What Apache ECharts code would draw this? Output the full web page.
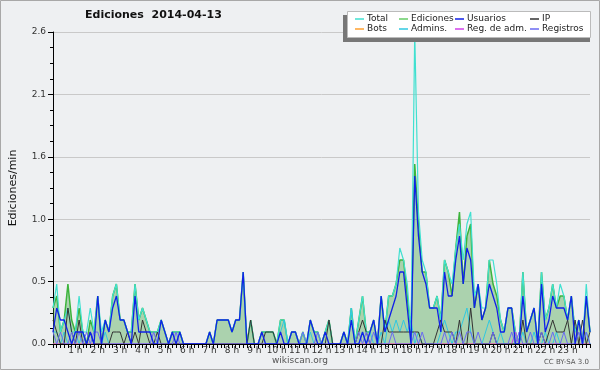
<!DOCTYPE html>
<html>
<head>
<meta charset="utf-8">
<script src="https://cdn.jsdelivr.net/npm/echarts@6/dist/echarts.min.js"></script>
<style>
  html, body { margin: 0; padding: 0; background: #eef0f2; }
  #chart { width: 600px; height: 370px; }
</style>
</head>
<body>
<div id="chart"></div>
<script>
// ediciones por minuto, tramos de 10 min (una fila = una hora, el último valor = 24:00)
const total = [
  0.3,0.5,0.1,0.2,0.3,0.1, 0.1,0.4,0.1,0.1,0.3,0.1, 0.4,0.1,0.2,0.1,0.4,0.5, 0.2,0.2,0.1,0.1,0.5,0.2,
  0.3,0.2,0.1,0.1,0.1,0.2, 0.1,0.0,0.1,0.1,0.1,0.0, 0.0,0.0,0.0,0.0,0.0,0.0, 0.1,0.0,0.2,0.2,0.2,0.2,
  0.1,0.2,0.2,0.6,0.0,0.2, 0.0,0.0,0.1,0.1,0.1,0.1, 0.0,0.2,0.2,0.0,0.1,0.1, 0.0,0.1,0.0,0.2,0.1,0.1,
  0.0,0.1,0.2,0.0,0.0,0.0, 0.1,0.0,0.3,0.0,0.2,0.4, 0.1,0.1,0.2,0.0,0.4,0.1, 0.4,0.4,0.5,0.8,0.7,0.5,
  0.1,2.6,1.1,0.7,0.6,0.3, 0.3,0.4,0.2,0.7,0.6,0.5, 0.8,1.0,0.7,1.0,1.1,0.4, 0.5,0.3,0.3,0.7,0.7,0.5,
  0.2,0.1,0.3,0.3,0.1,0.0, 0.6,0.1,0.2,0.3,0.0,0.6, 0.2,0.3,0.5,0.3,0.5,0.4, 0.2,0.4,0.1,0.2,0.0,0.5,
  0.1
];
const ediciones = [
  0.3,0.4,0.1,0.2,0.5,0.2, 0.1,0.3,0.1,0.0,0.2,0.1, 0.4,0.0,0.2,0.1,0.4,0.5, 0.2,0.2,0.1,0.1,0.5,0.2,
  0.3,0.2,0.1,0.1,0.1,0.2, 0.1,0.0,0.1,0.1,0.1,0.0, 0.0,0.0,0.0,0.0,0.0,0.0, 0.1,0.0,0.2,0.2,0.2,0.2,
  0.1,0.2,0.2,0.6,0.0,0.2, 0.0,0.0,0.1,0.1,0.1,0.1, 0.0,0.2,0.2,0.0,0.1,0.1, 0.0,0.1,0.0,0.2,0.1,0.1,
  0.0,0.1,0.2,0.0,0.0,0.0, 0.1,0.0,0.3,0.0,0.2,0.4, 0.1,0.1,0.2,0.0,0.4,0.1, 0.4,0.4,0.5,0.7,0.7,0.4,
  0.1,1.5,1.0,0.6,0.6,0.3, 0.3,0.4,0.2,0.7,0.6,0.4, 0.8,1.1,0.5,0.9,1.0,0.3, 0.5,0.2,0.3,0.7,0.5,0.4,
  0.2,0.1,0.3,0.3,0.1,0.0, 0.6,0.1,0.2,0.3,0.0,0.6, 0.2,0.3,0.5,0.3,0.4,0.4, 0.2,0.4,0.1,0.2,0.0,0.4,
  0.1
];
const usuarios = [
  0.1,0.3,0.2,0.2,0.1,0.0, 0.1,0.1,0.1,0.0,0.1,0.0, 0.4,0.0,0.2,0.1,0.3,0.4, 0.2,0.2,0.1,0.0,0.4,0.1,
  0.1,0.1,0.1,0.0,0.0,0.2, 0.1,0.0,0.1,0.0,0.1,0.0, 0.0,0.0,0.0,0.0,0.0,0.0, 0.1,0.0,0.2,0.2,0.2,0.2,
  0.1,0.2,0.2,0.6,0.0,0.0, 0.0,0.0,0.1,0.0,0.0,0.0, 0.0,0.1,0.0,0.0,0.1,0.1, 0.0,0.0,0.0,0.2,0.1,0.0,
  0.0,0.1,0.0,0.0,0.0,0.0, 0.1,0.0,0.2,0.0,0.0,0.1, 0.0,0.1,0.2,0.0,0.4,0.1, 0.2,0.3,0.4,0.6,0.6,0.3,
  0.0,1.4,0.9,0.6,0.5,0.3, 0.3,0.3,0.1,0.6,0.4,0.4, 0.7,0.9,0.5,0.8,0.7,0.3, 0.5,0.2,0.3,0.5,0.4,0.3,
  0.1,0.1,0.3,0.3,0.0,0.0, 0.4,0.1,0.2,0.3,0.0,0.5, 0.1,0.2,0.4,0.3,0.3,0.3, 0.2,0.4,0.0,0.2,0.0,0.4,
  0.1
];
const ip = [
  0.2,0.1,0.0,0.0,0.3,0.1, 0.0,0.2,0.0,0.0,0.1,0.0, 0.0,0.0,0.0,0.0,0.1,0.1, 0.1,0.0,0.1,0.0,0.1,0.0,
  0.2,0.1,0.0,0.0,0.1,0.0, 0.0,0.0,0.0,0.0,0.0,0.0, 0.0,0.0,0.0,0.0,0.0,0.0, 0.0,0.0,0.0,0.0,0.0,0.0,
  0.0,0.0,0.0,0.0,0.0,0.2, 0.0,0.0,0.0,0.1,0.1,0.1, 0.0,0.0,0.0,0.0,0.0,0.0, 0.0,0.0,0.0,0.0,0.0,0.0,
  0.0,0.0,0.2,0.0,0.0,0.0, 0.0,0.0,0.0,0.0,0.1,0.2, 0.1,0.0,0.0,0.0,0.0,0.2, 0.1,0.1,0.1,0.1,0.1,0.1,
  0.1,0.1,0.1,0.0,0.0,0.0, 0.0,0.1,0.2,0.1,0.1,0.1, 0.0,0.2,0.0,0.0,0.3,0.0, 0.0,0.0,0.0,0.0,0.1,0.0,
  0.0,0.0,0.0,0.0,0.0,0.0, 0.2,0.0,0.0,0.0,0.0,0.1, 0.0,0.1,0.2,0.1,0.1,0.1, 0.2,0.0,0.2,0.0,0.2,0.0,
  0.1
];
const admins = [
  0.1,0.1,0.0,0.1,0.0,0.0, 0.1,0.0,0.1,0.0,0.1,0.0, 0.0,0.0,0.1,0.0,0.0,0.0, 0.0,0.0,0.0,0.0,0.0,0.0,
  0.0,0.0,0.0,0.0,0.0,0.0, 0.0,0.0,0.0,0.0,0.0,0.0, 0.0,0.0,0.0,0.0,0.0,0.0, 0.0,0.0,0.0,0.0,0.0,0.0,
  0.0,0.0,0.0,0.0,0.0,0.0, 0.0,0.0,0.0,0.0,0.0,0.0, 0.0,0.1,0.2,0.0,0.0,0.0, 0.0,0.0,0.0,0.1,0.0,0.0,
  0.0,0.0,0.0,0.0,0.0,0.0, 0.0,0.0,0.3,0.0,0.0,0.1, 0.0,0.1,0.0,0.0,0.1,0.0, 0.2,0.1,0.2,0.1,0.2,0.1,
  0.2,0.0,0.1,0.0,0.0,0.0, 0.0,0.0,0.1,0.2,0.1,0.0, 0.1,0.1,0.2,0.3,0.1,0.0, 0.0,0.0,0.1,0.2,0.1,0.0,
  0.1,0.0,0.0,0.0,0.0,0.0, 0.1,0.0,0.0,0.1,0.0,0.0, 0.1,0.0,0.0,0.1,0.0,0.0, 0.0,0.0,0.0,0.0,0.0,0.1,
  0.0
];
const registros = [
  0.1,0.0,0.1,0.0,0.0,0.1, 0.0,0.1,0.0,0.1,0.0,0.1, 0.1,0.0,0.0,0.0,0.0,0.0, 0.0,0.0,0.0,0.0,0.0,0.0,
  0.0,0.0,0.0,0.1,0.0,0.0, 0.0,0.0,0.0,0.1,0.0,0.0, 0.0,0.0,0.0,0.0,0.0,0.0, 0.0,0.0,0.0,0.0,0.0,0.0,
  0.0,0.0,0.0,0.0,0.0,0.0, 0.0,0.0,0.0,0.0,0.0,0.0, 0.0,0.0,0.0,0.0,0.0,0.0, 0.0,0.1,0.0,0.0,0.0,0.1,
  0.0,0.0,0.0,0.0,0.0,0.0, 0.0,0.0,0.0,0.0,0.1,0.0, 0.1,0.0,0.1,0.0,0.0,0.0, 0.0,0.1,0.0,0.0,0.0,0.0,
  0.0,0.1,0.0,0.1,0.0,0.0, 0.0,0.0,0.0,0.1,0.0,0.1, 0.0,0.1,0.0,0.1,0.1,0.0, 0.1,0.0,0.0,0.0,0.1,0.0,
  0.0,0.0,0.0,0.1,0.0,0.1, 0.0,0.0,0.1,0.0,0.0,0.1, 0.0,0.0,0.1,0.0,0.0,0.1, 0.0,0.0,0.0,0.1,0.0,0.1,
  0.0
];
const regAdm = [
  0,0,0,0,0,0, 0,0,0,0,0,0, 0,0,0,0,0,0, 0,0,0,0,0,0, 0,0,0,0,0,0, 0,0,0,0,0,0,
  0,0,0,0,0,0, 0,0,0,0,0,0, 0,0,0,0,0,0, 0,0,0,0,0,0, 0,0,0,0,0,0, 0,0,0,0,0,0,
  0,0,0,0,0,0, 0,0,0,0,0,0, 0,0,0,0,0,0, 0,0,0,0,0,0, 0,0,0,0,0,0, 0,0,0,0,0,0,
  0,0,0,0,0,0, 0,0,0,0,0,0, 0,0,0,0,0.1,0, 0,0,0,0,0,0, 0,0,0,0,0,0, 0,0,0,0,0,0,
  0
];
const bots = [
  0,0,0,0,0,0, 0,0,0,0,0,0, 0,0,0,0,0,0, 0,0,0,0,0,0, 0,0,0,0,0,0, 0,0,0,0,0,0,
  0,0,0,0,0,0, 0,0,0,0,0,0, 0,0,0,0,0,0, 0,0,0,0,0,0, 0,0,0,0,0,0, 0,0,0,0,0,0,
  0,0,0,0,0,0, 0,0,0,0,0,0, 0,0,0,0,0,0, 0,0,0,0,0,0, 0,0,0,0,0,0, 0,0,0,0,0,0,
  0,0,0,0,0,0, 0,0,0,0,0,0, 0,0,0,0,0,0, 0,0,0,0,0,0, 0,0,0,0,0,0, 0,0,0,0,0,0,
  0
];

// etiquetas de tiempo (cada 10 min, de 0:00 a 24:00)
const times = [];
for (let h = 0; h <= 24; h++) {
  for (let m = 0; m < 60; m += 10) {
    if (h === 24 && m > 0) break;
    times.push(h + ":" + (m < 10 ? "0" + m : m));
  }
}

const font = "DejaVu Sans";
const chartInstance = echarts.init(document.getElementById("chart"));

function lineSerie(name, data, color, width, z) {
  return {
    name: name,
    type: "line",
    data: data,
    symbol: "none",
    z: z,
    lineStyle: { color: color, width: width },
    itemStyle: { color: color },
  };
}

const legendBase = {
  orient: "vertical",
  top: 14,
  padding: 0,
  itemGap: 0,
  itemWidth: 9,
  itemHeight: 1.5,
  icon: "rect",
  z: 7,
  selectedMode: false,
  textStyle: { fontFamily: font, fontSize: 9, color: "#222", lineHeight: 10, padding: [0, 0, 0, -2] },
};

const option = {
  animation: false,
  backgroundColor: "#eef0f2",
  title: {
    text: "Ediciones  2014-04-13",
    left: 85,
    top: 10,
    padding: 0,
    textStyle: { fontFamily: font, fontSize: 11, fontWeight: "bold", color: "#111" },
  },
  legend: [
    Object.assign({}, legendBase, { left: 355, data: ["Total", "Bots"] }),
    Object.assign({}, legendBase, { left: 399, data: ["Ediciones", "Admins."] }),
    Object.assign({}, legendBase, { left: 455, data: ["Usuarios", "Reg. de adm."] }),
    Object.assign({}, legendBase, { left: 530, data: ["IP", "Registros"] }),
  ],
  grid: { left: 46, right: 10, top: 32, bottom: 26 },
  xAxis: {
    type: "category",
    data: times,
    boundaryGap: false,
    z: 10,
    axisLine: { lineStyle: { color: "#000", width: 1 } },
    axisTick: { interval: 0, length: 4, lineStyle: { color: "#000" } },
    axisLabel: {
      interval: 5,
      margin: 2,
      fontFamily: font,
      fontSize: 9,
      color: "#333",
      formatter: function (v) {
        const h = parseInt(v, 10);
        return h === 0 || h === 24 ? "" : h + " h";
      },
    },
    splitLine: { show: false },
  },
  yAxis: {
    type: "value",
    min: 0,
    max: 2.6,
    interval: 0.52,
    name: "Ediciones/min",
    nameLocation: "middle",
    nameGap: 34,
    nameRotate: 90,
    nameTextStyle: { fontFamily: font, fontSize: 11, color: "#111" },
    axisLine: { show: true, lineStyle: { color: "#000" } },
    axisTick: { show: true, length: 5, lineStyle: { color: "#000" } },
    minorTick: { show: true, splitNumber: 4, length: 3, lineStyle: { color: "#000" } },
    axisLabel: {
      margin: 7,
      fontFamily: font,
      fontSize: 9,
      color: "#333",
      formatter: function (v) { return v.toFixed(1); },
    },
    splitLine: { show: true, lineStyle: { color: "#c9c9c9", width: 1 } },
  },
  series: [
    {
      name: "Ediciones",
      type: "line",
      data: ediciones,
      symbol: "none",
      z: 2,
      lineStyle: { color: "#3cb43c", width: 1.5 },
      itemStyle: { color: "#66cc66" },
      areaStyle: { color: "rgba(55,160,55,0.52)" },
    },
    lineSerie("Total", total, "#40e0d0", 1.2, 3),
    lineSerie("Bots", bots, "#ffa030", 1, 3),
    lineSerie("Admins.", admins, "#30c8e0", 1, 3),
    lineSerie("Reg. de adm.", regAdm, "#d040e8", 1, 3),
    lineSerie("IP", ip, "#333333", 1, 4),
    lineSerie("Registros", registros, "#6a6af2", 1, 4),
    lineSerie("Usuarios", usuarios, "#1020e8", 1.3, 5),
  ],
  graphic: [
    { type: "rect", z: 0, shape: { x: 0.5, y: 0.5, width: 599, height: 369 },
      style: { fill: null, stroke: "#a8a8a8", lineWidth: 1 } },
    { type: "rect", z: 5, shape: { x: 343, y: 15, width: 247, height: 27 },
      style: { fill: "#777" } },
    { type: "rect", z: 6, shape: { x: 347.5, y: 11.5, width: 243, height: 26 },
      style: { fill: "#fff", stroke: "#bbb", lineWidth: 1 } },
    { type: "text", z: 5, left: "center", top: 356,
      style: { text: "wikiscan.org", font: "9px " + font, fill: "#555" } },
    { type: "text", z: 5, right: 11, top: 359,
      style: { text: "CC BY-SA 3.0", font: "7px " + font, fill: "#555" } },
  ],
};

chartInstance.setOption(option);
</script>
</body>
</html>
